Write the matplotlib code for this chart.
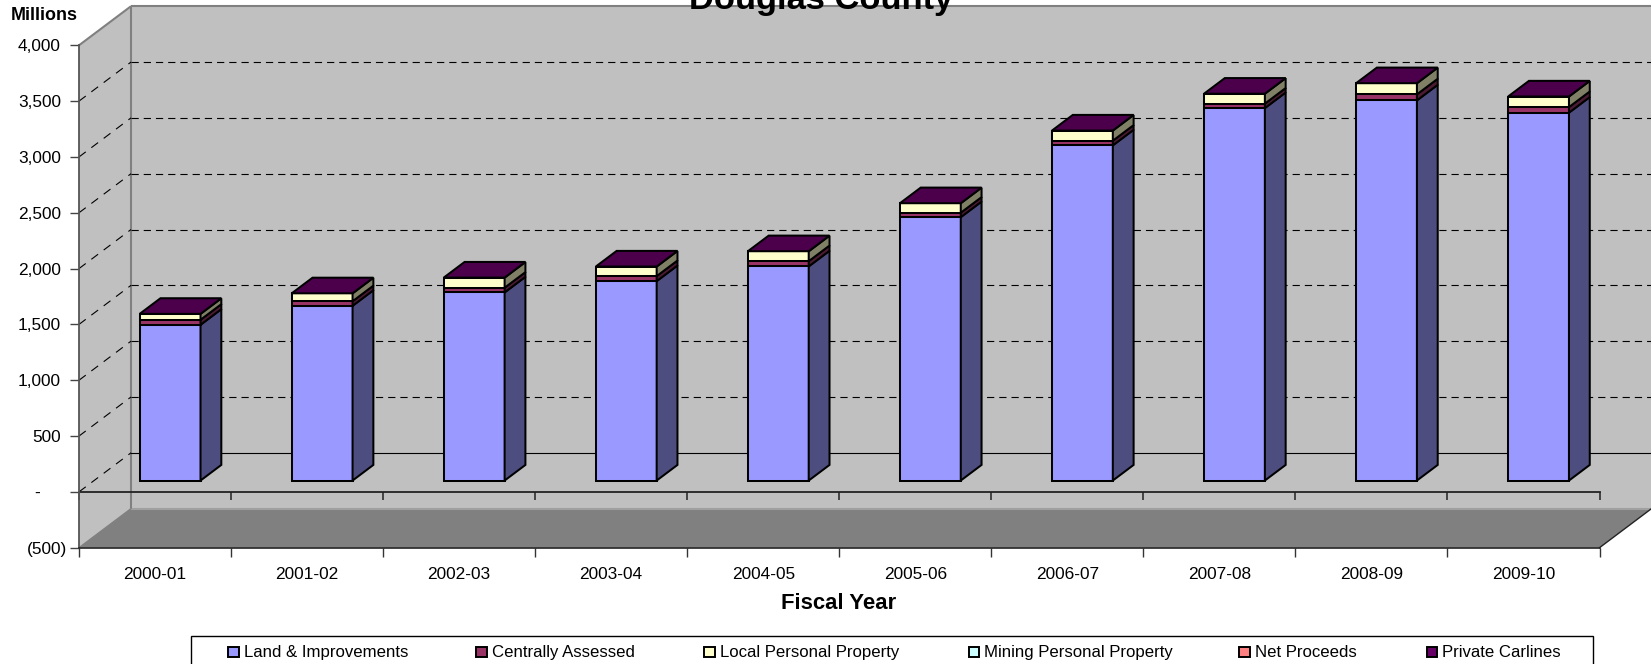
import matplotlib
matplotlib.use("Agg")
import matplotlib.pyplot as plt
from matplotlib.patches import Polygon, Rectangle
from matplotlib.transforms import ScaledTranslation

plt.rcParams['font.family'] = ['Liberation Sans', 'DejaVu Sans']

W, H = 1651, 664
years = ['2000-01','2001-02','2002-03','2003-04','2004-05','2005-06','2006-07','2007-08','2008-09','2009-10']
land = [1395,1565,1685,1786,1918,2359,3002,3336,3405,3295]
central = [45,41,42,45,47,40,42,40,54,50]
local = [52,70,90,85,88,84,90,88,99,94]
mining = [0,0,0,0,0,0,0,0,0,0]
net = [0,0,0,0,0,0,0,0,0,0]
private = [1,1,1,1,1,1,1,1,1,1]
series_names = ['Land & Improvements','Centrally Assessed','Local Personal Property','Mining Personal Property','Net Proceeds','Private Carlines']
series = [land, central, local, mining, net, private]
front = ['#9999FF','#993366','#FFFFCC','#CCFFFF','#FF8080','#660066']
side = ['#4D4D80','#4D1A33','#808066','#668080','#804040','#330033']
top_colour = '#4C004C'
yticks = [-500,0,500,1000,1500,2000,2500,3000,3500,4000]
ylabels = ['(500)','-','500','1,000','1,500','2,000','2,500','3,000','3,500','4,000']

# depth of the box, in axis units
DX, DY = 0.342, 350

fig = plt.figure(figsize=(W/100, H/100), dpi=100, facecolor='white')
x0, x1, ytop, ybot = 79, 1599.5, 45.3, 547.7
ax = fig.add_axes([x0/W, 1-ybot/H, (x1-x0)/W, (ybot-ytop)/H])
ax.set_xlim(0, 10); ax.set_ylim(-500, 4000)
ax.patch.set_visible(False)
for s in ['top','right']:
    ax.spines[s].set_visible(False)
ax.spines['left'].set_color('#555555'); ax.spines['left'].set_linewidth(1.3)
ax.spines['bottom'].set_color('#222222'); ax.spines['bottom'].set_linewidth(1.2)

def P(x, v, d):
    return (x + d*DX, v + d*DY)

def poly(pts, fc, ec='none', lw=0, z=1):
    ax.add_patch(Polygon(pts, closed=True, facecolor=fc, edgecolor=ec, linewidth=lw, zorder=z, clip_on=False, joinstyle='miter'))

# walls and floor
poly([P(0,-500,0),P(0,-500,1),P(0,4000,1),P(0,4000,0)], '#C0C0C0', z=0)
poly([P(0,-500,1),P(10,-500,1),P(10,4000,1),P(0,4000,1)], '#C0C0C0', z=0)
poly([P(0,-500,0),P(10,-500,0),P(10,-500,1),P(0,-500,1)], '#808080', z=0)
wall = dict(color='#808080', lw=1.5, zorder=1, clip_on=False, solid_capstyle='butt')
for a, b in [(P(0,4000,0),P(0,4000,1)),(P(0,4000,1),P(10,4000,1)),(P(0,-500,1),P(0,4000,1))]:
    ax.plot([a[0],b[0]],[a[1],b[1]],**wall)
a, b = P(0,-500,1), P(10,-500,1)
ax.plot([a[0],b[0]],[a[1],b[1]], color='#A0A0A0', lw=1.5, zorder=1, clip_on=False)
ax.plot(*zip(P(0,-500,0),P(0,-500,1)), color='#808080', lw=1, zorder=1, clip_on=False)
ax.plot(*zip(P(10,-500,0),P(10,-500,1)), color='#222222', lw=1, zorder=1, clip_on=False)

# gridlines
for v in range(0, 4000, 500):
    a, b, c = P(0,v,0), P(0,v,1), P(10,v,1)
    ax.plot([a[0],b[0]],[a[1],b[1]], color='black', lw=0.8, ls=(0,(7.6,6.3)), zorder=2, clip_on=False)
    ax.plot([b[0],c[0]],[b[1],c[1]], color='black', lw=0.8, ls=('-' if v == 0 else (0,(6.5,4.5))), zorder=2, clip_on=False)

# zero axis with its ticks
ax.axhline(0, color='#222222', lw=1.3, zorder=2, clip_on=False)
ax.vlines(range(11), -75, 0, color='#222222', lw=1.1, zorder=2, clip_on=False)

# stacked 3-D bars
BW, D0, D1 = 0.40, 0.29, 0.69
EC = 'black'; LW = 1.45
for i in range(len(years)):
    cx = i + 0.5
    l, r = cx - BW/2, cx + BW/2
    base = 0
    for k, s in enumerate(series):
        b, t = base, base + s[i]
        base = t
        if k >= 3:
            continue
        z = 5 + i + k*0.01
        poly([P(l,b,D0),P(r,b,D0),P(r,t,D0),P(l,t,D0)], front[k], EC, LW, z)
        poly([P(r,b,D0),P(r,b,D1),P(r,t,D1),P(r,t,D0)], side[k], EC, LW, z)
    poly([P(l,base,D0),P(r,base,D0),P(r,base,D1),P(l,base,D1)], top_colour, EC, LW, 5+i+0.1)

# axes ticks and labels
ax.set_yticks(yticks, ylabels)
ax.tick_params(axis='y', length=6.5, width=1, color='#444444', labelsize=12.4, pad=6.5)
for lab, txt in zip(ax.get_yticklabels(), ylabels):
    shift = {'(500)': 4.2, '-': -15}.get(txt, 0)
    if shift:
        lab.set_transform(lab.get_transform() + ScaledTranslation(shift/72, 0, fig.dpi_scale_trans))
ax.set_xticks(range(11))
ax.set_xticklabels([''] * 11)
ax.set_xticks([i + 0.5 for i in range(10)], minor=True)
ax.set_xticklabels(years, minor=True, fontsize=12.4)
ax.tick_params(axis='x', which='major', length=6.5, width=1, color='#333333')
ax.tick_params(axis='x', which='minor', length=0, pad=14)

fig.text(838.5/W, 1-603.5/H, 'Fiscal Year', fontsize=15.9, fontweight='bold', ha='center', va='center')
fig.text(11/W, 1-16/H, 'Millions', fontsize=12.9, fontweight='bold', ha='left', va='center')
fig.text(821/W, 1-9/H, 'Douglas County', fontsize=24.8, fontweight='bold', ha='center', va='baseline')

# legend box
leg_x = [228, 476, 704, 968.5, 1239, 1426.5]
fig.add_artist(Rectangle((191/W, 1-700/H), 1402/W, 64/H, transform=fig.transFigure, fill=False, ec='black', lw=1))
for x, name, c in zip(leg_x, series_names, front):
    fig.add_artist(Rectangle((x/W, 1-657/H), 10.5/W, 10.5/H, transform=fig.transFigure, fc=c, ec='black', lw=1.4))
    fig.text((x+15.5)/W, 1-652.5/H, name, fontsize=12.1, ha='left', va='center')

fig.savefig('out.png', dpi=100)
